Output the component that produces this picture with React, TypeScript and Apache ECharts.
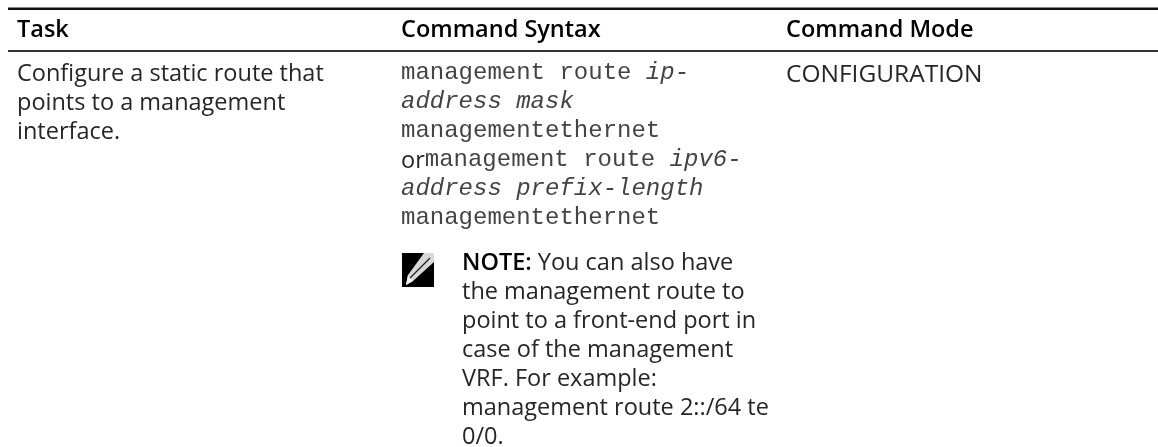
import React, { useEffect, useRef } from "react";
import * as echarts from "echarts";

const headers = ["Task", "Command Syntax", "Command Mode"];
const taskLines = ["Configure a static route that", "points to a management", "interface."];
const syntaxLines = [
  "{m|management route }{i|ip-}",
  "{i|address mask}",
  "{m|managementethernet}",
  "{s|or}{m|management route }{i|ipv6-}",
  "{i|address prefix-length}",
  "{m|managementethernet}",
];
const modeLines = ["CONFIGURATION"];
const noteLead = "{b|NOTE:}{s| You can also have}";
const noteLines = [
  "the management route to",
  "point to a front-end port in",
  "case of the management",
  "VRF. For example:",
  "management route 2::/64 te",
  "0/0.",
];

const SANS = "'Open Sans', sans-serif";
const MONO = "'Liberation Mono', monospace";
const INK = "#262626";
const MONO_INK = "#444444";
const SIZE = 23.5;

export default function App() {
  const ref = useRef<HTMLDivElement>(null);
  useEffect(() => {
    const chart = echarts.init(ref.current!, undefined, { renderer: "svg" });
    const rich = {
      m: { fontFamily: MONO, fontSize: 24, fill: MONO_INK },
      i: { fontFamily: MONO, fontSize: 24, fontStyle: "italic", fill: MONO_INK },
      s: { fontFamily: SANS, fontSize: SIZE, fill: INK },
      b: { fontFamily: SANS, fontSize: SIZE, fontWeight: 600, fill: "#000" },
    };
    const plain = (x: number, y: number, text: string, fontSize = SIZE) => ({
      type: "text", x, y,
      style: { text, fontFamily: SANS, fontSize, lineHeight: 22, fill: INK, textVerticalAlign: "middle" },
    });
    const richText = (x: number, y: number, text: string) => ({
      type: "text", x, y,
      style: { text, rich, fontFamily: MONO, fontSize: 24, fill: MONO_INK, textVerticalAlign: "middle" },
    });
    const elements: any[] = [
      { type: "rect", shape: { x: 8, y: 7.5, width: 1150, height: 2.5 }, style: { fill: "#111" } },
      { type: "rect", shape: { x: 8, y: 50, width: 1150, height: 2 }, style: { fill: "#333" } },
      { type: "rect", shape: { x: 402, y: 253, width: 32, height: 34 }, style: { fill: "#000" } },
      { type: "polygon", shape: { points: [[424, 253], [434, 253], [434, 262], [413, 281], [406, 285], [408, 275]] }, style: { fill: "#d8d8d8" } },
      { type: "polygon", shape: { points: [[408, 275], [413, 281], [406, 285]] }, style: { fill: "#f4f4f4" } },
      { type: "line", shape: { x1: 410, y1: 278, x2: 430, y2: 258 }, style: { stroke: "#222", lineWidth: 1.2 } },
    ];
    const [cTask, cSyntax, cMode] = [17, 401, 786];
    headers.forEach((h, i) => {
      elements.push({
        type: "text", x: [cTask, cSyntax, cMode][i], y: 28,
        style: { text: h, fontFamily: SANS, fontSize: SIZE, fontWeight: 600, fill: "#000", textVerticalAlign: "middle" },
      });
    });
    taskLines.forEach((t, i) => elements.push(plain(cTask, 72 + i * 29, t)));
    syntaxLines.forEach((t, i) => elements.push(richText(cSyntax, 72 + i * 29, t)));
    modeLines.forEach((t, i) => elements.push(plain(cMode, 72 + i * 29, t, 24.5)));
    elements.push(richText(462, 261, noteLead));
    noteLines.forEach((t, i) => elements.push(plain(462, 290 + i * 29, t)));
    chart.setOption({ animation: false, graphic: { elements } });
    return () => chart.dispose();
  }, []);
  return <div ref={ref} style={{ position: "fixed", left: 0, top: 0, width: 1158, height: 447 }} />;
}
